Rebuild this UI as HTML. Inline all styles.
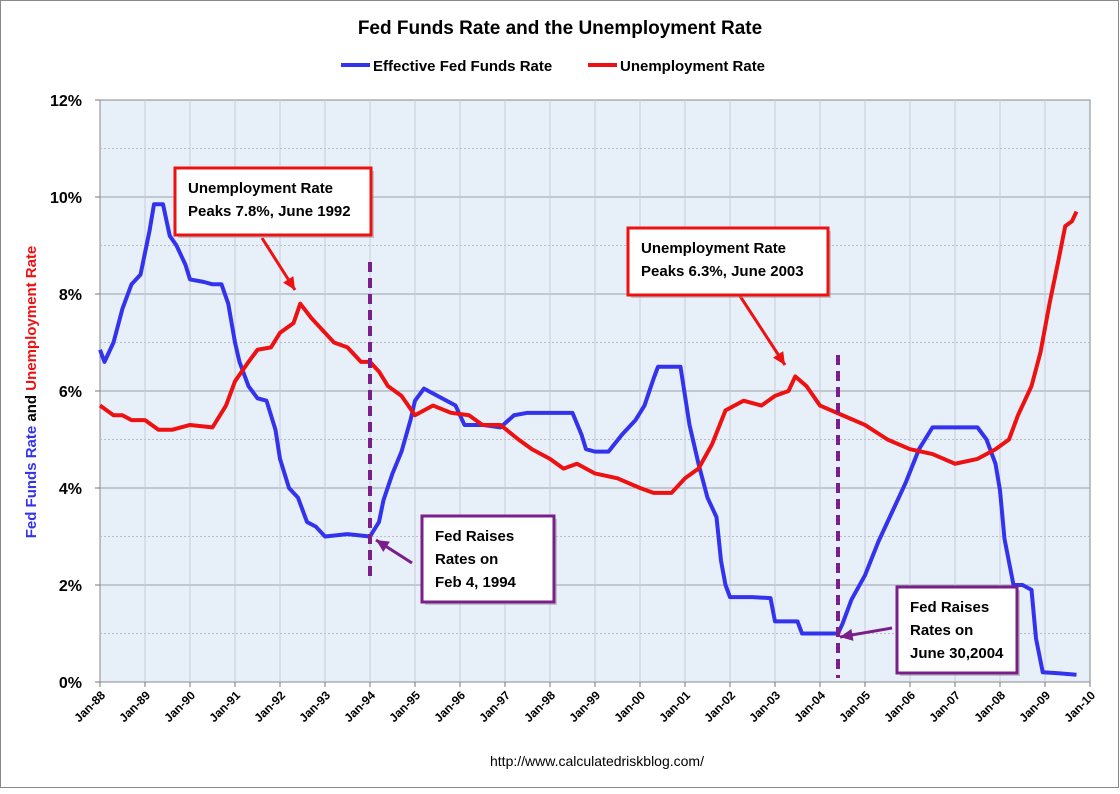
<!DOCTYPE html>
<html><head><meta charset="utf-8"><style>
body{margin:0;background:#fff;}
svg text{font-family:"Liberation Sans",sans-serif;}
</style></head><body>
<svg width="1120" height="789" viewBox="0 0 1120 789" xmlns="http://www.w3.org/2000/svg">
<rect x="0.5" y="0.5" width="1118" height="787" fill="#fff" stroke="#888"/>
<text x="560" y="34" text-anchor="middle" font-size="19" font-weight="bold">Fed Funds Rate and the Unemployment Rate</text>
<g>
<line x1="341" y1="65" x2="370" y2="65" stroke="#3333ee" stroke-width="4"/>
<text x="373" y="71" font-size="15" font-weight="bold">Effective Fed Funds Rate</text>
<line x1="588" y1="65" x2="617" y2="65" stroke="#ee1111" stroke-width="4"/>
<text x="620" y="71" font-size="15" font-weight="bold">Unemployment Rate</text>
</g>
<rect x="100" y="100" width="990" height="582" fill="#e7eff9" stroke="#888"/>
<g id="grid"></g>
<g id="axes"></g>
<text transform="translate(36,392) rotate(-90)" text-anchor="middle" font-size="15" font-weight="bold"><tspan fill="#3333ee">Fed Funds Rate</tspan><tspan fill="#000"> and </tspan><tspan fill="#ee1111">Unemployment Rate</tspan></text>
<g id="series"></g>
<g id="annot"></g>
<text x="597" y="766" text-anchor="middle" font-size="14">http://www.calculatedriskblog.com/</text>
</svg>
<script>
const yTicks=[0,2,4,6,8,10,12];
const xYears=[1988,1989,1990,1991,1992,1993,1994,1995,1996,1997,1998,1999,2000,2001,2002,2003,2004,2005,2006,2007,2008,2009,2010];
const fedT=[1988.0,1988.1,1988.3,1988.5,1988.7,1988.9,1989.1,1989.2,1989.4,1989.55,1989.7,1989.9,1990.0,1990.3,1990.5,1990.7,1990.85,1991.0,1991.1,1991.3,1991.5,1991.7,1991.9,1992.0,1992.2,1992.4,1992.6,1992.8,1993.0,1993.5,1994.0,1994.2,1994.3,1994.5,1994.7,1994.9,1995.0,1995.2,1995.5,1995.9,1996.1,1996.5,1996.9,1997.2,1997.5,1998.0,1998.5,1998.7,1998.8,1999.0,1999.3,1999.6,1999.9,2000.1,2000.3,2000.4,2000.7,2000.9,2001.0,2001.1,2001.3,2001.5,2001.7,2001.8,2001.9,2002.0,2002.5,2002.9,2003.0,2003.5,2003.6,2004.4,2004.5,2004.7,2005.0,2005.3,2005.6,2005.9,2006.2,2006.5,2007.0,2007.5,2007.7,2007.9,2008.0,2008.1,2008.3,2008.5,2008.7,2008.8,2008.95,2009.3,2009.7];
const fedV=[6.85,6.6,7.0,7.7,8.2,8.4,9.3,9.85,9.85,9.2,9.0,8.6,8.3,8.25,8.2,8.2,7.8,7.0,6.6,6.1,5.85,5.8,5.2,4.6,4.0,3.8,3.3,3.2,3.0,3.05,3.0,3.3,3.75,4.3,4.75,5.4,5.8,6.05,5.9,5.7,5.3,5.3,5.25,5.5,5.55,5.55,5.55,5.1,4.8,4.75,4.75,5.1,5.4,5.7,6.25,6.5,6.5,6.5,5.9,5.3,4.5,3.8,3.4,2.5,2.0,1.75,1.75,1.73,1.25,1.25,1.0,1.0,1.2,1.7,2.2,2.9,3.5,4.1,4.8,5.25,5.25,5.25,5.0,4.5,3.95,2.95,2.0,2.0,1.9,0.9,0.2,0.18,0.15];
const unT=[1988.0,1988.3,1988.5,1988.7,1989.0,1989.3,1989.6,1990.0,1990.5,1990.8,1991.0,1991.3,1991.5,1991.8,1992.0,1992.3,1992.45,1992.7,1992.9,1993.2,1993.5,1993.8,1994.0,1994.2,1994.4,1994.7,1995.0,1995.4,1995.8,1996.2,1996.5,1996.9,1997.3,1997.6,1998.0,1998.3,1998.6,1999.0,1999.5,2000.0,2000.3,2000.7,2001.0,2001.3,2001.6,2001.9,2002.3,2002.7,2003.0,2003.3,2003.45,2003.7,2004.0,2004.5,2005.0,2005.5,2006.0,2006.5,2007.0,2007.5,2007.9,2008.2,2008.4,2008.7,2008.9,2009.1,2009.3,2009.45,2009.6,2009.7];
const unV=[5.7,5.5,5.5,5.4,5.4,5.2,5.2,5.3,5.25,5.7,6.2,6.6,6.85,6.9,7.2,7.4,7.8,7.5,7.3,7.0,6.9,6.6,6.6,6.4,6.1,5.9,5.5,5.7,5.55,5.5,5.3,5.3,5.0,4.8,4.6,4.4,4.5,4.3,4.2,4.0,3.9,3.9,4.2,4.4,4.9,5.6,5.8,5.7,5.9,6.0,6.3,6.1,5.7,5.5,5.3,5.0,4.8,4.7,4.5,4.6,4.8,5.0,5.5,6.1,6.8,7.8,8.7,9.4,9.5,9.7];
const NS="http://www.w3.org/2000/svg";
const X=t=>100+(t-1988)*45;
const Y=v=>682-v*48.5;
function mk(tag,attrs,parent){const e=document.createElementNS(NS,tag);for(const k in attrs)e.setAttribute(k,attrs[k]);parent.appendChild(e);return e;}
const grid=document.getElementById('grid'),axes=document.getElementById('axes'),ser=document.getElementById('series'),an=document.getElementById('annot');
for(let v=1;v<12;v++){const l=mk('line',{x1:100,x2:1090,y1:Y(v),y2:Y(v),stroke:v%2?'#b8bcc8':'#9aa0aa','stroke-dasharray':v%2?'2,2':'none'},grid);

}
xYears.forEach(yr=>{if(yr>1988&&yr<2010){const l=mk('line',{x1:X(yr),x2:X(yr),y1:100,y2:682,stroke:'#c8ccd6'},grid);

}});
yTicks.forEach(v=>{mk('line',{x1:95,x2:100,y1:Y(v),y2:Y(v),stroke:'#777'},axes);const t=mk('text',{x:82,y:Y(v)+6,'text-anchor':'end','font-size':16,'font-weight':'bold'},axes);t.textContent=v+'%';

});
xYears.forEach(yr=>{mk('line',{x1:X(yr),x2:X(yr),y1:682,y2:687,stroke:'#777'},axes);const t=mk('text',{transform:`translate(${X(yr)+6},${696}) rotate(-45)`,'text-anchor':'end','font-size':12,'font-weight':'bold'},axes);t.textContent='Jan-'+String(yr).slice(2);

});
function line(T,V,c,name){const p=mk('polyline',{points:T.map((t,i)=>X(t)+','+Y(V[i])).join(' '),fill:'none',stroke:c,'stroke-width':4,'stroke-linejoin':'round'},ser);

}
line(fedT,fedV,'#3333ee','fed-funds-line');
line(unT,unV,'#ee1111','unemployment-line');
// annotations
function dash(x,y1,y2){const l=mk('line',{x1:x,x2:x,y1:y1,y2:y2,stroke:'#7a1f8a','stroke-width':4,'stroke-dasharray':'10,6'},an);

}
dash(370,262,580);dash(838,355,678);
function arrow(x1,y1,x2,y2,c){const g=mk('g',{},an);mk('line',{x1,y1,x2,y2,stroke:c,'stroke-width':3},g);const a=Math.atan2(y2-y1,x2-x1),s=14;
mk('polygon',{points:`${x2},${y2} ${x2-s*Math.cos(a-0.45)},${y2-s*Math.sin(a-0.45)} ${x2-s*Math.cos(a+0.45)},${y2-s*Math.sin(a+0.45)}`,fill:c},g);

}
arrow(262,238,295,290,'#ee1111');arrow(740,296,785,365,'#ee1111');arrow(412,563,376,540,'#7a1f8a');arrow(892,628,840,637,'#7a1f8a');
function box(x,y,w,h,c,lines,lh,name){const g=mk('g',{},an);mk('rect',{x:x+3,y:y+3,width:w,height:h,fill:'#999',opacity:0.5},g);mk('rect',{x,y,width:w,height:h,fill:'#fff',stroke:c,'stroke-width':3},g);
lines.forEach((s,i)=>{const t=mk('text',{x:x+13,y:y+25+i*lh,'font-size':15,'font-weight':'bold'},g);t.textContent=s;});

}
box(175,168,196,67,'#ee1111',['Unemployment Rate','Peaks 7.8%, June 1992'],23,'annotation-1992-peak');
box(628,228,200,67,'#ee1111',['Unemployment Rate','Peaks 6.3%, June 2003'],23,'annotation-2003-peak');
box(422,516,132,86,'#7a1f8a',['Fed Raises','Rates on','Feb 4, 1994'],23,'annotation-1994-raise');
box(897,587,120,86,'#7a1f8a',['Fed Raises','Rates on','June 30,2004'],23,'annotation-2004-raise');
</script>
</body></html>
